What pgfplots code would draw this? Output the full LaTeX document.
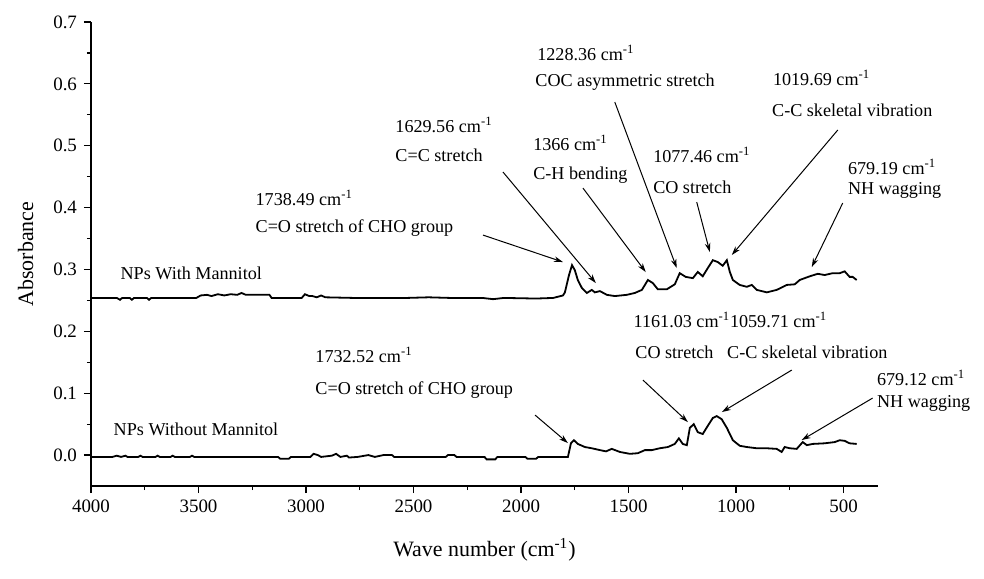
\documentclass[border=0pt]{standalone}
\usepackage{fontspec}
\setmainfont{Liberation Serif}
\usepackage{pgfplots}
\pgfplotsset{compat=1.18}
\usepackage{pgfplotstable}
\usetikzlibrary{arrows.meta}

\tikzset{
  annot/.style={anchor=west, inner sep=0pt, font=\fontsize{9.1}{10}\selectfont},
  arr/.style={line width=0.5bp, -{Stealth[length=4.5bp,width=2.8bp]}},
}

\pgfplotstableread{
x y
4000 0.254
3930 0.254
3880 0.254
3865 0.251
3855 0.254
3820 0.254
3810 0.251
3800 0.254
3740 0.254
3730 0.251
3720 0.254
3510 0.254
3490 0.258
3460 0.259
3440 0.257
3410 0.260
3380 0.258
3350 0.260
3320 0.259
3300 0.262
3280 0.259
3170 0.259
3160 0.254
3020 0.254
3005 0.260
2985 0.257
2970 0.257
2950 0.255
2930 0.258
2910 0.255
2780 0.254
2530 0.254
2430 0.255
2330 0.254
2180 0.254
2130 0.252
2080 0.254
1930 0.253
1850 0.254
1805 0.258
1796 0.263
1777 0.291
1763 0.307
1750 0.299
1736 0.283
1717 0.270
1694 0.262
1671 0.267
1657 0.263
1633 0.265
1601 0.259
1564 0.257
1508 0.259
1471 0.262
1438 0.267
1410 0.283
1387 0.278
1364 0.268
1322 0.268
1285 0.276
1262 0.294
1234 0.288
1201 0.286
1178 0.296
1155 0.289
1132 0.302
1108 0.315
1085 0.312
1062 0.306
1043 0.315
1029 0.296
1015 0.283
983 0.275
950 0.272
927 0.275
904 0.267
857 0.263
811 0.267
764 0.275
727 0.276
704 0.283
657 0.289
620 0.293
588 0.291
551 0.294
518 0.294
495 0.297
472 0.288
458 0.288
439 0.283
}\withM

\pgfplotstableread{
x y
4000 -0.003
3900 -0.003
3880 -0.001
3860 -0.003
3840 -0.001
3830 -0.003
3780 -0.003
3770 -0.001
3760 -0.003
3700 -0.003
3690 -0.001
3680 -0.003
3630 -0.003
3620 -0.001
3610 -0.003
3540 -0.003
3530 -0.001
3520 -0.003
3130 -0.003
3120 -0.006
3080 -0.006
3070 -0.003
2980 -0.003
2965 0.002
2945 0.000
2930 -0.003
2880 -0.001
2860 0.002
2840 -0.003
2810 -0.001
2800 -0.004
2760 -0.003
2710 0.000
2680 -0.003
2640 0.000
2600 0.000
2590 -0.003
2350 -0.003
2340 0.000
2310 0.000
2300 -0.003
2170 -0.003
2160 -0.007
2120 -0.007
2110 -0.003
1980 -0.003
1970 -0.006
1930 -0.006
1920 -0.003
1782 -0.003
1768 0.019
1754 0.024
1736 0.018
1703 0.013
1671 0.011
1633 0.008
1605 0.006
1578 0.010
1540 0.005
1494 0.002
1457 0.003
1424 0.008
1392 0.008
1355 0.011
1317 0.013
1285 0.018
1266 0.027
1248 0.018
1229 0.016
1215 0.044
1197 0.050
1178 0.037
1155 0.034
1132 0.047
1108 0.060
1090 0.063
1067 0.058
1043 0.044
1015 0.024
983 0.015
950 0.013
904 0.011
857 0.011
811 0.010
788 0.005
774 0.013
750 0.011
718 0.010
690 0.021
671 0.016
644 0.018
588 0.019
541 0.021
518 0.024
495 0.023
472 0.019
439 0.018
}\withoutM

\begin{document}
\begin{tikzpicture}
\path[use as bounding box] (-45.5bp,-46.5bp) rectangle (446.5bp,243bp);
\begin{axis}[
  at={(0,0)}, anchor=south west,
  scale only axis, width=393.5bp, height=232bp,
  x dir=reverse, xmin=340, xmax=4000, ymin=-0.05, ymax=0.7,
  axis lines*=left, axis line style={-, line width=0.7bp},
  xtick={500,1000,1500,2000,2500,3000,3500,4000},
  ytick={0,0.1,0.2,0.3,0.4,0.5,0.6,0.7},
  minor x tick num=1, minor y tick num=1,
  tick align=outside, major tick length=3.5bp, minor tick length=2bp,
  tick style={line width=0.6bp, black},
  scaled ticks=false,
  /pgf/number format/assume math mode=true,
  /pgf/number format/1000 sep={},
  yticklabel style={/pgf/number format/.cd, fixed, fixed zerofill, precision=1},
  ticklabel style={font=\fontsize{9.5}{10}\selectfont},
  clip=false,
]
\addplot[black, line width=0.9bp] table[x=x,y=y] {\withM};
\addplot[black, line width=0.9bp] table[x=x,y=y] {\withoutM};

\node[anchor=center, rotate=90, font=\fontsize{11}{12}\selectfont] at (axis description cs:-0.083,0.5) {Absorbance};
\node[anchor=center, font=\fontsize{11}{12}\selectfont] at (axis description cs:0.5,0) [yshift=-32bp] {Wave number (cm\textsuperscript{-1})};

\node[annot] at (axis cs:3864,0.294) {NPs With Mannitol};
\node[annot] at (axis cs:3896,0.042) {NPs Without Mannitol};

\node[annot] at (axis cs:3236,0.4155) {1738.49 cm\textsuperscript{-1}};
\node[annot] at (axis cs:3236,0.367) {C=O stretch of CHO group};
\draw[arr] (axis cs:2177,0.3556) -- (axis cs:1805,0.312);

\node[annot] at (axis cs:2586,0.5335) {1629.56 cm\textsuperscript{-1}};
\node[annot] at (axis cs:2586,0.485) {C=C stretch};
\draw[arr] (axis cs:2084,0.4575) -- (axis cs:1652,0.278);

\node[annot] at (axis cs:1945,0.5044) {1366 cm\textsuperscript{-1}};
\node[annot] at (axis cs:1945,0.4526) {C-H bending};
\draw[arr] (axis cs:1712,0.4316) -- (axis cs:1420,0.2958);

\node[annot] at (axis cs:1926,0.650) {1228.36 cm\textsuperscript{-1}};
\node[annot] at (axis cs:1935,0.603) {COC asymmetric stretch};
\draw[arr] (axis cs:1564,0.5706) -- (axis cs:1276,0.3023);

\node[annot] at (axis cs:1387,0.485) {1077.46 cm\textsuperscript{-1}};
\node[annot] at (axis cs:1387,0.4332) {CO stretch};
\draw[arr] (axis cs:1183,0.409) -- (axis cs:1122,0.3282);

\node[annot] at (axis cs:830,0.6094) {1019.69 cm\textsuperscript{-1}};
\node[annot] at (axis cs:834,0.5577) {C-C skeletal vibration};
\draw[arr] (axis cs:527,0.5254) -- (axis cs:1020,0.3233);

\node[annot] at (axis cs:481,0.4656) {679.19 cm\textsuperscript{-1}};
\node[annot] at (axis cs:481,0.4284) {NH wagging};
\draw[arr] (axis cs:504,0.4074) -- (axis cs:648,0.3039);

\node[annot] at (axis cs:2958,0.1617) {1732.52 cm\textsuperscript{-1}};
\node[annot] at (axis cs:2958,0.1051) {C=O stretch of CHO group};
\draw[arr] (axis cs:1935,0.0647) -- (axis cs:1782,0.0194);

\node[annot] at (axis cs:1478,0.2182) {1161.03 cm\textsuperscript{-1}};
\node[annot] at (axis cs:1470,0.1665) {CO stretch};
\draw[arr] (axis cs:1433,0.1212) -- (axis cs:1224,0.0533);

\node[annot] at (axis cs:1030,0.2182) {1059.71 cm\textsuperscript{-1}};
\node[annot] at (axis cs:1043,0.1665) {C-C skeletal vibration};
\draw[arr] (axis cs:741,0.1374) -- (axis cs:1066,0.0695);

\node[annot] at (axis cs:346,0.1245) {679.12 cm\textsuperscript{-1}};
\node[annot] at (axis cs:346,0.0841) {NH wagging};
\draw[arr] (axis cs:365,0.0921) -- (axis cs:695,0.0242);
\end{axis}
\end{tikzpicture}
\end{document}
